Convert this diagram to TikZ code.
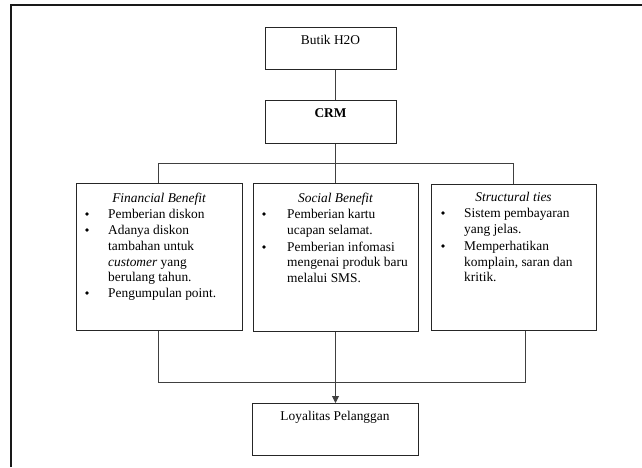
\documentclass[tikz,border=0pt]{standalone}
\usepackage{fontspec}
\setmainfont{Liberation Serif}
\usetikzlibrary{arrows.meta}
\begin{document}
\begin{tikzpicture}[x=1pt,y=-1pt,
  box/.style={draw=black!85, line width=0.9pt, rectangle, inner sep=0pt, anchor=north west},
  conn/.style={draw=black!75, line width=0.9pt},
  txt/.style={font=\fontsize{13.4}{15}\selectfont, inner sep=0pt, text=black},
  ln/.style={txt, anchor=base west},
  bul/.style={circle, fill=black, inner sep=0pt, minimum size=3.6pt},
  ttl/.style={txt, anchor=base, font=\fontsize{13.4}{15}\selectfont\itshape}]
\useasboundingbox (0,0) rectangle (642,467);
\draw[line width=2pt, draw=black!90] (11,467) -- (11,5) -- (642,5);

% boxes
\node[box, minimum width=131, minimum height=42] (butik) at (265,27) {};
\node[box, minimum width=131, minimum height=43] (crm) at (265,100) {};
\node[box, minimum width=166, minimum height=147] (fin) at (76,183) {};
\node[box, minimum width=165, minimum height=148] (soc) at (253,183) {};
\node[box, minimum width=165, minimum height=146] (str) at (431,184) {};
\node[box, minimum width=166, minimum height=52] (loy) at (252,403) {};

% single-line labels
\node[txt, anchor=base] (tbutik) at (330.5,44) {Butik H2O};
\node[txt, anchor=base, font=\fontsize{13.4}{15}\selectfont\bfseries] (tcrm) at (330.5,117) {CRM};
\node[txt, anchor=base] (tloy) at (335,420) {Loyalitas Pelanggan};

% Financial Benefit
\node[ttl] (finT) at (159,202) {Financial Benefit};
\node[bul] (fb1) at (87,214) {};
\node[ln] (f1) at (108,218) {Pemberian diskon};
\node[bul] (fb2) at (87,230) {};
\node[ln] (f2) at (108,234) {Adanya diskon};
\node[ln] (f3) at (108,250) {tambahan untuk};
\node[ln] (f4) at (108,266) {\textit{customer} yang};
\node[ln] (f5) at (108,281) {berulang tahun.};
\node[bul] (fb3) at (87,293) {};
\node[ln] (f6) at (108,297) {Pengumpulan point.};

% Social Benefit
\node[ttl] (socT) at (335.5,202) {Social Benefit};
\node[bul] (sb1) at (264,214) {};
\node[ln] (s1) at (287,218) {Pemberian kartu};
\node[ln] (s2) at (287,234) {ucapan selamat.};
\node[bul] (sb2) at (264,247) {};
\node[ln] (s3) at (287,251) {Pemberian infomasi};
\node[ln] (s4) at (287,266) {mengenai produk baru};
\node[ln] (s5) at (287,282) {melalui SMS.};

% Structural ties
\node[ttl] (strT) at (513.5,201) {Structural ties};
\node[bul] (tb1) at (443,213) {};
\node[ln] (t1) at (464,217) {Sistem pembayaran};
\node[ln] (t2) at (464,233) {yang jelas.};
\node[bul] (tb2) at (443,246) {};
\node[ln] (t3) at (464,250) {Memperhatikan};
\node[ln] (t4) at (464,266) {komplain, saran dan};
\node[ln] (t5) at (464,281) {kritik.};

% connector guides
\coordinate (xm) at (335.5,0);
\coordinate (xl) at (158,0);
\coordinate (xr) at (513,0);
\coordinate (xrb) at (525,0);
\coordinate (bus1) at (0,163);
\coordinate (bus2) at (0,382);

\draw[conn] (butik.south -| xm) -- (crm.north -| xm);
\draw[conn] (crm.south -| xm) -- (soc.north -| xm);
\draw[conn] (fin.north -| xl) |- (bus1 -| xr) -- (str.north -| xr);
\draw[conn] (fin.south -| xl) |- (bus2 -| xrb) -- (str.south -| xrb);
\draw[conn, -{Triangle[length=7pt,width=7pt]}] (soc.south -| xm) -- (loy.north -| xm);
\end{tikzpicture}
\end{document}
